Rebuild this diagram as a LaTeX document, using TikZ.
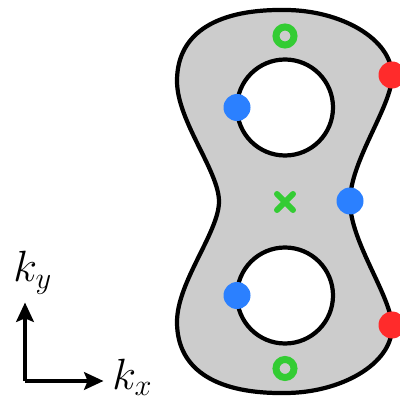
\documentclass[tikz,border=0pt]{standalone}
\usetikzlibrary{arrows.meta}
\definecolor{dotblue}{HTML}{2B80FF}
\definecolor{dotred}{HTML}{FF2B2B}
\definecolor{markgreen}{HTML}{33CC33}
\tikzset{
  axis/.style={line width=2.3pt, -{Stealth[length=11pt, width=10pt, inset=2pt]}},
  klabel/.style={inner sep=0pt, anchor=base west, font=\fontsize{24}{28}\selectfont},
  ring/.style={markgreen, line width=4pt}
}
\begin{document}
\begin{tikzpicture}
  \useasboundingbox (0,0) rectangle (8,8.02);

  % Surface with two holes
  \filldraw[gray!40, draw=black, line width=2.4pt, even odd rule]
    (4.38,3.99) .. controls (4.38,4.6) and (3.54,5.6) .. (3.54,6.4)
    .. controls (3.54,7.4) and (4.4,7.84) .. (5.7,7.82)
    .. controls (6.8,7.82) and (7.84,7.25) .. (7.84,6.5)
    .. controls (7.84,5.9) and (7.0,4.8) .. (7.0,3.99)
    .. controls (7.0,3.18) and (7.84,2.08) .. (7.84,1.48)
    .. controls (7.84,0.73) and (6.8,0.16) .. (5.7,0.16)
    .. controls (4.4,0.14) and (3.54,0.58) .. (3.54,1.58)
    .. controls (3.54,2.38) and (4.38,3.38) .. (4.38,3.99) -- cycle
    (5.7,5.87) circle (0.96)
    (5.7,2.11) circle (0.96);

  % Blue points
  \fill[dotblue] (4.74,5.87) circle (0.27);
  \fill[dotblue] (4.74,2.11) circle (0.27);
  \fill[dotblue] (7.0,4.0) circle (0.27);

  % Red points on the rim
  \fill[dotred] (7.84,6.52) circle (0.27);
  \fill[dotred] (7.84,1.52) circle (0.27);

  % Green markers
  \draw[ring] (5.7,7.3) circle (0.18);
  \draw[ring] (5.7,0.65) circle (0.18);
  \draw[markgreen, line width=3.4pt, line cap=round]
    (5.54,3.82) -- (5.86,4.14) (5.54,4.14) -- (5.86,3.82);

  % Axes
  \coordinate (o) at (0.5,0.4);
  \coordinate (ex) at (2.07,0.4);
  \coordinate (ey) at (0.5,1.97);
  \draw[axis] (o) -- (ex);
  \draw[axis] (o) -- (ey);
  \node[klabel] (kx) at (2.24,0.24) {$k_x$};
  \node[klabel] (ky) at (0.26,2.38) {$k_y$};
\end{tikzpicture}
\end{document}
